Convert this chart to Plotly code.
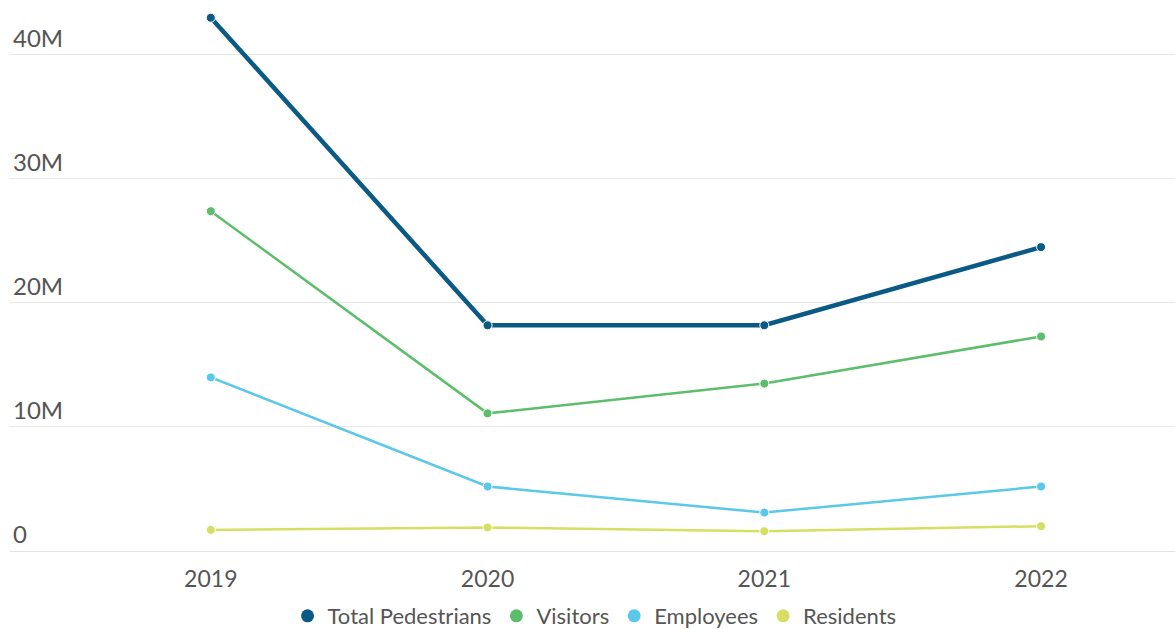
import plotly.graph_objects as go

years = ["2019", "2020", "2021", "2022"]
total_pedestrians = [43.0, 18.2, 18.2, 24.5]
visitors = [27.4, 11.1, 13.5, 17.3]
employees = [14.0, 5.2, 3.1, 5.2]
residents = [1.7, 1.9, 1.6, 2.0]

series = [
    ("Total Pedestrians", total_pedestrians, "#0b5a85", 4.5),
    ("Visitors", visitors, "#5cbe6a", 2.5),
    ("Employees", employees, "#5ac8e9", 2.5),
    ("Residents", residents, "#d6df63", 2.5),
]

fig = go.Figure()
for name, vals, color, width in series:
    # the line itself
    fig.add_trace(go.Scatter(
        x=years,
        y=[v * 1e6 for v in vals],
        name=name,
        legendgroup=name,
        showlegend=False,
        mode="lines+markers",
        line=dict(color=color, width=width),
        marker=dict(color=color, size=9, line=dict(color="white", width=1)),
    ))
    # dot-only legend entry
    fig.add_trace(go.Scatter(
        x=[None],
        y=[None],
        name=name,
        legendgroup=name,
        mode="markers",
        marker=dict(color=color, size=13),
    ))

tick_vals = [0, 10e6, 20e6, 30e6, 40e6]
tick_text = ["0", "10M", "20M", "30M", "40M"]

fig.update_layout(
    width=1175,
    height=629,
    margin=dict(l=10, r=0, t=0, b=78, autoexpand=False),
    paper_bgcolor="white",
    plot_bgcolor="white",
    font=dict(family="Lato, sans-serif", color="#555555"),
    showlegend=True,
    legend=dict(
        orientation="h",
        xref="container",
        x=0.506, xanchor="center",
        yref="container",
        y=(629 - 616) / 629, yanchor="middle",
        font=dict(size=22, color="#555555"),
        itemsizing="trace",
        tracegroupgap=0,
    ),
    xaxis=dict(
        type="category",
        range=[-0.7256, 3.484],
        showgrid=False,
        zeroline=False,
        showline=False,
        ticks="outside",
        ticklen=7,
        tickcolor="rgba(0,0,0,0)",
        tickfont=dict(size=23, color="#555555"),
        fixedrange=True,
    ),
    yaxis=dict(
        range=[0, 44.43e6],
        tickvals=tick_vals,
        ticktext=tick_text,
        ticklabelposition="inside top",
        tickfont=dict(size=24, color="#555555"),
        showgrid=True,
        gridcolor="#e8e8e8",
        gridwidth=1,
        zeroline=True,
        zerolinecolor="#e4e4e4",
        zerolinewidth=1,
        showline=False,
        fixedrange=True,
    ),
)

fig.write_html("out.html")
